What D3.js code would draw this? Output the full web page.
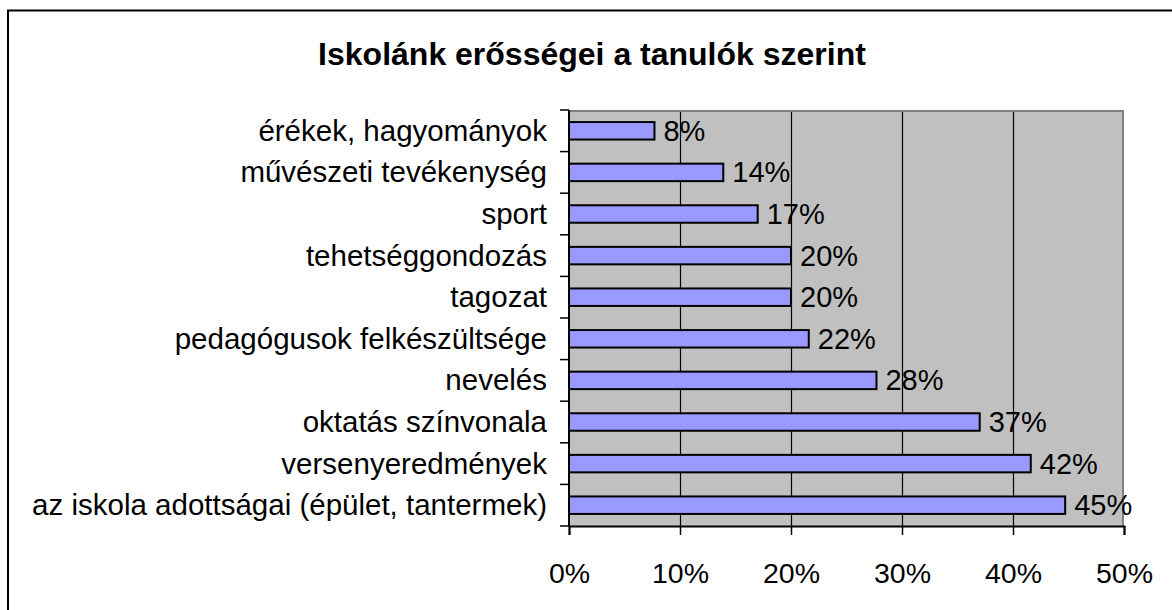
<!DOCTYPE html>
<html>
<head>
<meta charset="utf-8">
<script src="https://cdn.jsdelivr.net/npm/d3@7"></script>
<style>
  body { margin: 0; background: #fff; }
  svg { display: block; }
  text { font-family: "Liberation Sans", Arial, sans-serif; fill: #000; }
</style>
</head>
<body>
<svg id="chart" width="1172" height="610"></svg>
<script>
// data (top to bottom)
var categories = [
  "érékek, hagyományok",
  "művészeti tevékenység",
  "sport",
  "tehetséggondozás",
  "tagozat",
  "pedagógusok felkészültsége",
  "nevelés",
  "oktatás színvonala",
  "versenyeredmények",
  "az iskola adottságai (épület, tantermek)"
];
var values = [7.7, 13.9, 17.0, 20.0, 20.0, 21.6, 27.7, 37.0, 41.6, 44.7];
var xTicks = [0, 10, 20, 30, 40, 50];
var title = "Iskolánk erősségei a tanulók szerint";

var svg = d3.select("#chart");

// outer chart frame (runs past the right edge like the picture)
svg.append("rect")
   .attr("x", 8).attr("y", 10.5)
   .attr("width", 1200).attr("height", 640)
   .attr("fill", "none")
   .attr("stroke", "#000")
   .attr("stroke-width", 2);

svg.append("text")
   .attr("x", 592).attr("y", 65)
   .attr("text-anchor", "middle")
   .style("font-size", "32px")
   .style("font-weight", "bold")
   .text(title);

var plotL = 569, plotR = 1124, plotT = 110, plotB = 526;

var x = d3.scaleLinear().domain([0, 50]).range([plotL, plotR]);
var y = d3.scaleBand().domain(categories).range([plotT, plotB]).paddingInner(0.58).paddingOuter(0.29);
var band = d3.scaleBand().domain(categories).range([plotT, plotB]);

// plot area
svg.append("rect")
   .attr("x", plotL).attr("y", plotT)
   .attr("width", plotR - plotL).attr("height", plotB - plotT)
   .attr("fill", "#c0c0c0");

// gridlines
svg.append("g")
   .selectAll("line")
   .data(xTicks.filter(function(d){ return d > 0 && d < 50; }))
   .enter().append("line")
   .attr("x1", function(d){ return Math.round(x(d)) + 0.5; })
   .attr("x2", function(d){ return Math.round(x(d)) + 0.5; })
   .attr("y1", plotT).attr("y2", plotB)
   .attr("stroke", "#000")
   .attr("stroke-width", 1.2);

// grey border top & right
svg.append("path")
   .attr("d", "M" + plotL + "," + (plotT + 1) + "H" + (plotR - 1) + "V" + plotB)
   .attr("fill", "none")
   .attr("stroke", "#808080")
   .attr("stroke-width", 2);

// bars
svg.append("g")
   .selectAll("rect")
   .data(values)
   .enter().append("rect")
   .attr("x", x(0))
   .attr("y", function(d, i){ return y(categories[i]); })
   .attr("width", function(d){ return x(d) - x(0); })
   .attr("height", y.bandwidth())
   .attr("fill", "#9999ff")
   .attr("stroke", "#000")
   .attr("stroke-width", 2);

// value labels
svg.append("g")
   .selectAll("text")
   .data(values)
   .enter().append("text")
   .attr("x", function(d){ return x(d) + 9; })
   .attr("y", function(d, i){ return y(categories[i]) + y.bandwidth() / 2 + 10; })
   .style("font-size", "29px")
   .text(function(d){ return Math.round(d) + "%"; });

// y axis
var yAxis = svg.append("g")
   .attr("transform", "translate(" + plotL + ",0)");
yAxis.append("line")
   .attr("x1", 0).attr("x2", 0).attr("y1", plotT).attr("y2", plotB)
   .attr("stroke", "#000").attr("stroke-width", 2);
yAxis.selectAll("line.tick")
   .data(categories.concat(["end"]))
   .enter().append("line")
   .attr("class", "tick")
   .attr("x1", -9).attr("x2", 0)
   .attr("y1", function(d, i){ return i < categories.length ? band(d) : plotB; })
   .attr("y2", function(d, i){ return i < categories.length ? band(d) : plotB; })
   .attr("stroke", "#000").attr("stroke-width", 1.5);
yAxis.selectAll("text")
   .data(categories)
   .enter().append("text")
   .attr("x", -22)
   .attr("y", function(d){ return band(d) + band.bandwidth() / 2 + 10; })
   .attr("text-anchor", "end")
   .style("font-size", "29.5px")
   .text(function(d){ return d; });

// x axis
var xAxis = svg.append("g")
   .attr("transform", "translate(0," + plotB + ")")
   .call(d3.axisBottom(x).tickValues(xTicks).tickSize(9).tickPadding(28)
         .tickFormat(function(d){ return d + "%"; }));
xAxis.select(".domain").attr("stroke", "#000").attr("stroke-width", 2);
xAxis.selectAll(".tick line").attr("stroke", "#000").attr("stroke-width", 1.5);
xAxis.selectAll(".tick text")
   .style("font-size", "28.5px")
   .style("font-family", "'Liberation Sans', Arial, sans-serif")
   .attr("fill", "#000");
</script>
</body>
</html>
